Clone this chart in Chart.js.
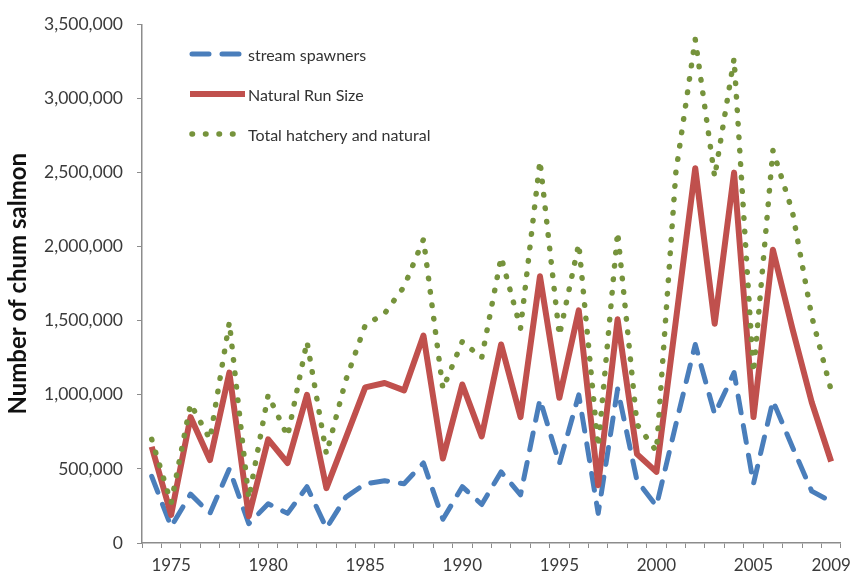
<!DOCTYPE html>
<html>
<head>
<meta charset="utf-8">
<title>Chum salmon</title>
<script src="https://cdn.jsdelivr.net/npm/chart.js@4.4.1/dist/chart.umd.min.js"></script>
<style>
  html, body { margin: 0; padding: 0; background: #fff; }
  #wrap { width: 858px; height: 581px; }
</style>
</head>
<body>
<div id="wrap"><canvas id="myChart" width="858" height="581"></canvas></div>
<script>
// data
const years = ['1974', '1975', '1976', '1977', '1978', '1979', '1980', '1981', '1982', '1983',
  '1984', '1985', '1986', '1987', '1988', '1989', '1990', '1991', '1992', '1993',
  '1994', '1995', '1996', '1997', '1998', '1999', '2000', '2001', '2002', '2003',
  '2004', '2005', '2006', '2007', '2008', '2009'];

const streamSpawners = [450000, 110000, 330000, 200000, 500000, 130000, 265000, 200000, 380000, 100000,
  310000, 400000, 420000, 400000, 540000, 160000, 380000, 260000, 480000, 325000,
  970000, 535000, 1000000, 200000, 1040000, 420000, 250000, 800000, 1340000, 870000,
  1150000, 400000, 960000, 650000, 350000, 280000];

const naturalRunSize = [650000, 190000, 850000, 560000, 1150000, 180000, 700000, 540000, 1000000, 370000,
  710000, 1050000, 1080000, 1030000, 1400000, 570000, 1070000, 720000, 1340000, 850000,
  1800000, 980000, 1570000, 390000, 1510000, 600000, 480000, 1500000, 2530000, 1480000,
  2500000, 850000, 1980000, 1450000, 950000, 550000];

const totalHatcheryNatural = [700000, 270000, 940000, 700000, 1490000, 300000, 1000000, 720000, 1360000, 600000,
  1100000, 1470000, 1550000, 1730000, 2050000, 1040000, 1360000, 1250000, 1930000, 1450000,
  2580000, 1400000, 2020000, 650000, 2100000, 800000, 620000, 2500000, 3400000, 2470000,
  3270000, 1150000, 2650000, 2240000, 1530000, 1030000];

const xTickLabels = ['1975', '1980', '1985', '1990', '1995', '2000', '2005', '2009'];

{
  const FONT = 'Lato, "Open Sans", sans-serif';
  const AXIS_GREY = '#8c8c8c';

  // legend drawn inside the plot, top left
  const insideLegend = {
    id: 'insideLegend',
    afterDraw(chart) {
      const ctx = chart.ctx;
      chart.data.datasets.forEach((ds, i) => {
        const y = 54 + i * 40;
        // dotted sample is a bit shorter, like the original
        const x1 = ds.borderDash ? 192 : 190;
        const x2 = ds.borderCapStyle === 'round' && ds.borderDash[0] < 1 ? 236 : 245;
        ctx.save();
        ctx.strokeStyle = ds.borderColor;
        ctx.lineWidth = ds.borderWidth;
        ctx.lineCap = ds.borderCapStyle || 'butt';
        ctx.setLineDash(ds.borderDash || []);
        ctx.beginPath();
        ctx.moveTo(x1, y);
        ctx.lineTo(x2, y);
        ctx.stroke();
        ctx.setLineDash([]);
        ctx.fillStyle = '#333';
        ctx.font = '16px ' + FONT;
        ctx.textBaseline = 'middle';
        ctx.fillText(ds.label, 248, y + 2);
        ctx.restore();
      });
    },
  };

  const initChart = () => {
    const ctx = document.getElementById('myChart').getContext('2d');

    // eslint-disable-next-line no-undef
    const chart = new Chart(ctx, {
      type: 'line',
      data: {
        labels: years,
        datasets: [
          {
            label: 'stream spawners',
            data: streamSpawners,
            borderColor: '#4a7ebb',
            borderWidth: 5,
            borderDash: [17, 13],
            borderCapStyle: 'round',
            order: 3,
          },
          {
            label: 'Natural Run Size',
            data: naturalRunSize,
            borderColor: '#c0504d',
            borderWidth: 6,
            order: 2,
          },
          {
            label: 'Total hatchery and natural',
            data: totalHatcheryNatural,
            borderColor: '#76933c',
            borderWidth: 5.5,
            borderDash: [0.5, 13],
            borderCapStyle: 'round',
            order: 1,
          },
        ],
      },
      options: {
        responsive: false,
        animation: false,
        devicePixelRatio: 1,
        layout: { padding: { top: 17, right: 10, left: 0, bottom: 0 } },
        elements: {
          point: { radius: 0, hoverRadius: 0 },
          line: { tension: 0, borderJoinStyle: 'round' },
        },
        plugins: {
          legend: { display: false },
          tooltip: { enabled: false },
        },
        scales: {
          x: {
            type: 'category',
            offset: true,
            grid: {
              offset: true,
              drawOnChartArea: false,
              tickLength: 5,
              color: AXIS_GREY,
            },
            border: { color: AXIS_GREY, width: 1.5 },
            ticks: {
              autoSkip: false,
              maxRotation: 0,
              padding: 7,
              color: '#3a3a3a',
              font: { family: FONT, size: 17 },
              callback: (value, index) => (xTickLabels.includes(years[index]) ? years[index] : ''),
            },
            afterFit: (scale) => {
              scale.height = 38;
            },
          },
          y: {
            min: 0,
            max: 3500000,
            grid: {
              drawOnChartArea: false,
              tickLength: 5,
              color: AXIS_GREY,
            },
            border: { color: AXIS_GREY, width: 1.5 },
            ticks: {
              stepSize: 500000,
              padding: 14,
              color: '#3a3a3a',
              font: { family: FONT, size: 17.5 },
              callback: (value) => value.toLocaleString('en-US'),
            },
            title: {
              display: true,
              text: 'Number of chum salmon',
              color: '#111',
              font: { family: FONT, size: 24, weight: 'bold' },
              padding: { top: 4, bottom: 0 },
            },
            afterFit: (scale) => {
              scale.width = 142;
            },
          },
        },
      },
      plugins: [insideLegend],
    });
  };

  initChart();
}
</script>
</body>
</html>
